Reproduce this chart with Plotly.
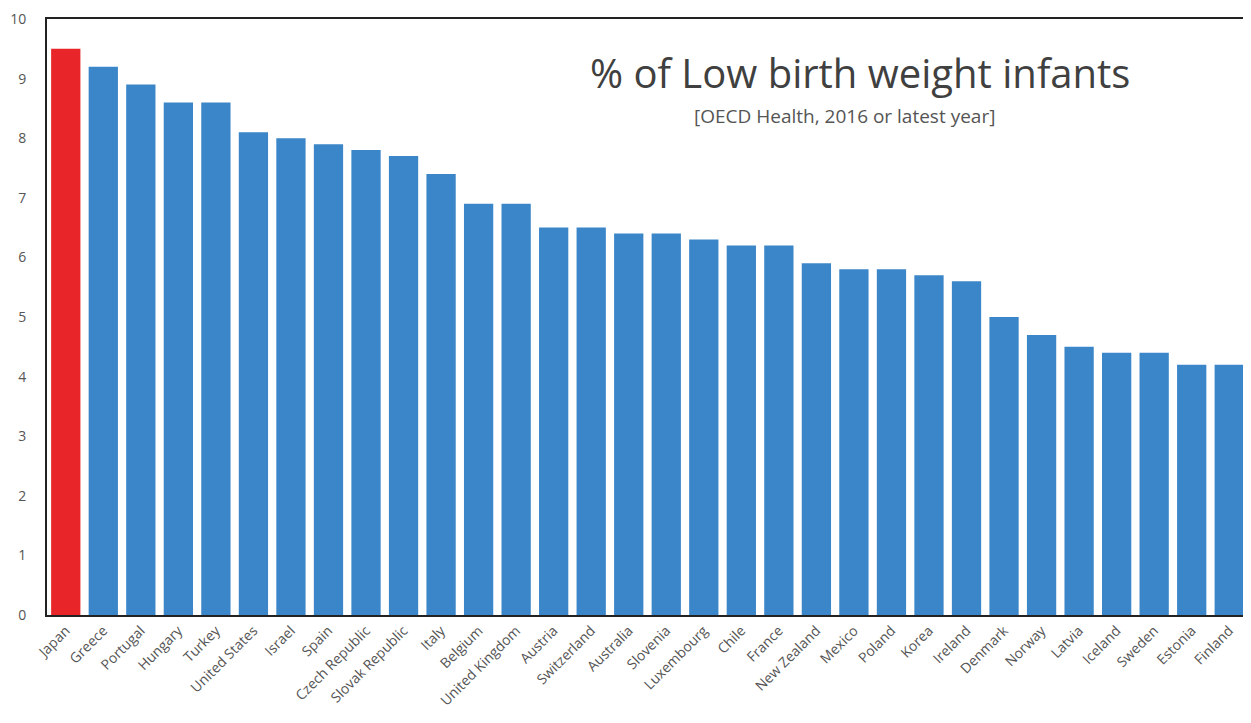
import plotly.graph_objects as go

countries = ["Japan", "Greece", "Portugal", "Hungary", "Turkey", "United States", "Israel",
             "Spain", "Czech Republic", "Slovak Republic", "Italy", "Belgium", "United Kingdom",
             "Austria", "Switzerland", "Australia", "Slovenia", "Luxembourg", "Chile", "France",
             "New Zealand", "Mexico", "Poland", "Korea", "Ireland", "Denmark", "Norway", "Latvia",
             "Iceland", "Sweden", "Estonia", "Finland"]
values = [9.5, 9.2, 8.9, 8.6, 8.6, 8.1, 8.0, 7.9, 7.8, 7.7, 7.4, 6.9, 6.9, 6.5, 6.5, 6.4, 6.4,
          6.3, 6.2, 6.2, 5.9, 5.8, 5.8, 5.7, 5.6, 5.0, 4.7, 4.5, 4.4, 4.4, 4.2, 4.2]
y_ticks = [0, 1, 2, 3, 4, 5, 6, 7, 8, 9, 10]

BLUE = "#3b86c9"
RED = "#e8262a"
colors = [RED if c == "Japan" else BLUE for c in countries]
FONT = "Open Sans, Liberation Sans, sans-serif"

fig = go.Figure(go.Bar(x=countries, y=values, marker=dict(color=colors, line=dict(width=0)),
                       hoverinfo="x+y"))

fig.update_layout(
    width=1251, height=723,
    margin=dict(l=39, r=11, t=11, b=116),
    paper_bgcolor="white", plot_bgcolor="white",
    bargap=0.22,
    showlegend=False,
    font=dict(family=FONT, color="#555555"),
    xaxis=dict(tickangle=-45, tickfont=dict(size=14, color="#555555"), showgrid=False,
               showline=True, linecolor="#222222", linewidth=2, mirror=True, ticks="",
               automargin=False),
    yaxis=dict(range=[0, 10], tickvals=y_ticks, tickfont=dict(size=14, color="#555555"),
               showgrid=False, zeroline=False, showline=True, linecolor="#222222",
               linewidth=2, mirror=True, ticks="", ticklabelstandoff=16, automargin=False,
               ticklabeloverflow="allow"),
    annotations=[
        dict(text="% of Low birth weight infants", x=0.677, y=0.91, xref="paper", yref="paper",
             showarrow=False, font=dict(size=40, color="#404040", family=FONT),
             xanchor="center", yanchor="middle"),
        dict(text="[OECD Health, 2016 or latest year]", x=0.664, y=0.838, xref="paper",
             yref="paper", showarrow=False,
             font=dict(size=19, color="#555555", family=FONT),
             xanchor="center", yanchor="middle"),
    ],
)

fig.write_html("out.html")
